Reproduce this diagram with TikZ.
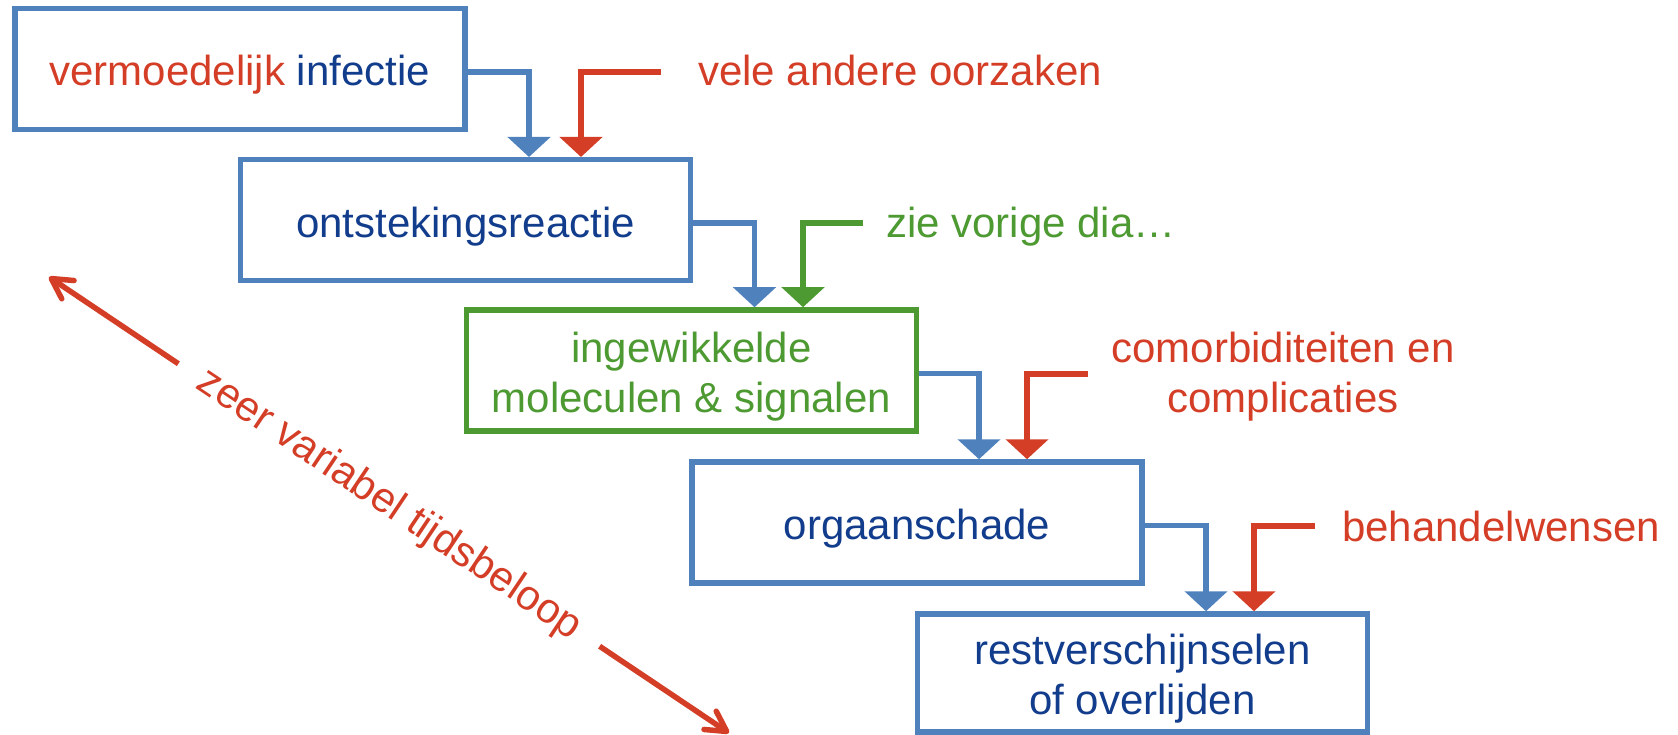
\documentclass[tikz,border=0pt]{standalone}
\usepackage{fontspec}
\setmainfont{Liberation Sans}
\usetikzlibrary{arrows.meta}
\definecolor{boxblue}{HTML}{4F81BD}
\definecolor{txtblue}{HTML}{123C8C}
\definecolor{myred}{HTML}{D43D26}
\definecolor{mygreen}{HTML}{4E9A32}
\begin{document}
\begin{tikzpicture}[x=1pt,y=-1pt,
  font=\fontsize{42}{50}\selectfont,
  stage/.style={draw=boxblue, line width=5.5pt, minimum width=450pt, minimum height=121pt,
    inner sep=0pt, text=txtblue, align=center},
  oneline/.style={text height=40pt, text depth=6pt},
  twoline/.style={text height=90pt, text depth=7pt},
  conn/.style={line width=5.5pt, -{Triangle[width=42pt,length=20pt]}},
  lbl/.style={inner sep=0pt}
]
\useasboundingbox (0,0) rectangle (1678,735);

% boxes
\node[stage,oneline] (b1) at (239.75,69) {\textcolor{myred}{vermoedelijk} infectie};
\node[stage,oneline] (b2) at (465.5,220.25) {ontstekingsreactie};
\node[stage,twoline,draw=mygreen,text=mygreen] (b3) at (691.5,370.5) {ingewikkelde\\moleculen \& signalen};
\node[stage,oneline] (b4) at (917,522.5) {orgaanschade};
\node[stage,twoline,minimum height=118pt] (b5) at (1142.5,673) {restverschijnselen\\of overlijden};

% side labels
\node[lbl,anchor=base west,text=myred] (l1) at (698,86) {vele andere oorzaken};
\node[lbl,anchor=base west,text=mygreen] (l2) at (886,238) {zie vorige dia…};
\node[lbl,anchor=base,text=myred,align=center] (l3) at (1283,412) {comorbiditeiten en\\complicaties};
\node[lbl,anchor=base west,text=myred] (l4) at (1342,541) {behandelwensen};

% drop positions and free ends
\coordinate (x1) at (529,0);  \coordinate (x1r) at (581,0);  \coordinate (r1) at (661,72);
\coordinate (x2) at (754.5,0); \coordinate (x2g) at (803,0); \coordinate (g2) at (863,223);
\coordinate (x3) at (979,0);  \coordinate (x3r) at (1027,0); \coordinate (r3) at (1088,374);
\coordinate (x4) at (1206,0); \coordinate (x4r) at (1254,0); \coordinate (r4) at (1315,526);

% connectors
\draw[conn,boxblue] ([yshift=-3pt]b1.east) -| (b2.north -| x1);
\draw[conn,myred] (r1) -| (b2.north -| x1r);
\draw[conn,boxblue] ([yshift=-3pt]b2.east) -| (b3.north -| x2);
\draw[conn,mygreen] (g2) -| (b3.north -| x2g);
\draw[conn,boxblue] ([yshift=-3pt]b3.east) -| (b4.north -| x3);
\draw[conn,myred] (r3) -| (b4.north -| x3r);
\draw[conn,boxblue] ([yshift=-3pt]b4.east) -| (b5.north -| x4);
\draw[conn,myred] (r4) -| (b5.north -| x4r);

% time arrow
\coordinate (tl) at (49,277);
\coordinate (br) at (729,733);
\draw[myred, line width=5.5pt,
  {Straight Barb[length=20pt,width=22pt,round]}-{Straight Barb[length=20pt,width=22pt,round]}]
  (tl) -- node[sloped, fill=white, inner xsep=27pt, inner ysep=2pt, text=myred] (tt) {zeer variabel tijdsbeloop} (br);
\end{tikzpicture}
\end{document}
